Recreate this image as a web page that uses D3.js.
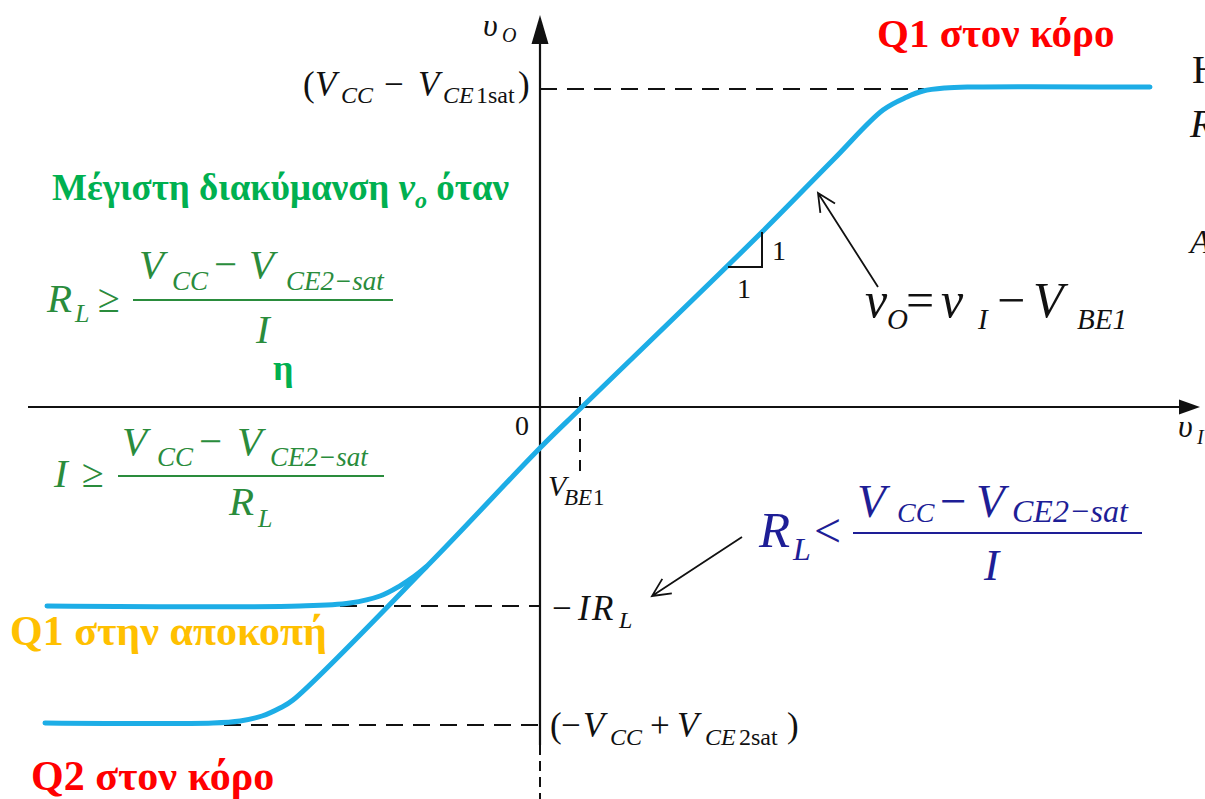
<!DOCTYPE html>
<html>
<head>
<meta charset="utf-8">
<script src="https://cdn.jsdelivr.net/npm/d3@7"></script>
<style>
  html, body { margin: 0; padding: 0; background: #fff; overflow: hidden; }
  svg { display: block; }
</style>
</head>
<body>
<svg id="chart" width="1205" height="799"></svg>
<script>
// Transfer characteristic vO(vI) of the class-B follower output stage.
// Main branch: Q2 saturated -> linear (slope 1, offset VBE1) -> Q1 saturated
const mainVI = [-12.375, -8.175, -7.5, -6.95, -6.5, -6.175, -2.675, 0, 1.05, 5.55, 7.325, 8.575, 9.175, 9.575, 10.125, 10.75, 15.25];
const mainVO = [-7.9, -7.9, -7.85, -7.725, -7.525, -7.325, -3.825, -1.025, 0, 4.375, 6.175, 7.425, 7.75, 7.9, 7.975, 8.0, 8.0];
// Branch where Q1 is cut off at -I*RL
const cutVI = [-12.325, -6.0, -4.75, -4.0, -3.5, -3.15, -2.85];
const cutVO = [-4.975, -4.975, -4.9, -4.725, -4.47, -4.24, -4.0];

// Reference levels on the vO axis and their guide extents on the vI axis
const levelNames = ["VCCsat1", "IRL", "VCCsat2"];
const levelVO = [7.95, -4.975, -7.95];
const levelFromVI = [0, -5.0, -7.9];
const levelToVI = [9.6, 0, 0];
const vbe1 = 1.0;

const SERIF = "Liberation Serif";
const svg = d3.select("#chart").style("font-family", `'${SERIF}'`);
const W = 1205, H = 799;

const x = d3.scaleLinear().domain([-12.8, 16.5]).range([28, 1200]);
const y = d3.scaleLinear().domain([-9.8, 9.8]).range([799, 15]);

// ---- axes ----
const xAxis = d3.axisBottom(x).tickValues([]).tickSizeOuter(0);
const gx = svg.append("g").attr("transform", `translate(0,${y(0)})`).call(xAxis);
gx.select(".domain").attr("stroke", "#111").attr("stroke-width", 2.2)
  .attr("d", `M${x(-12.8)},0H${x(16.5) - 16}`);
svg.append("path")
  .attr("d", `M${x(16.5)},${y(0)} L${x(16.5) - 21},${y(0) - 7.5} L${x(16.5) - 21},${y(0) + 7.5} Z`)
  .attr("fill", "#111");

const yAxisTop = y(9.8), yAxisSolidEnd = y(-8.45);
const yAxis = d3.axisLeft(y.copy().domain([-8.45, 9.8]).range([yAxisSolidEnd, yAxisTop])).tickValues([]).tickSizeOuter(0);
const gy = svg.append("g").attr("transform", `translate(${x(0)},0)`).call(yAxis);
gy.select(".domain").attr("stroke", "#111").attr("stroke-width", 2.2)
  .attr("d", `M0,${yAxisSolidEnd}V${yAxisTop + 20}`);
svg.append("path")
  .attr("d", `M${x(0)},${yAxisTop} L${x(0) - 8.5},${yAxisTop + 29} L${x(0) + 8.5},${yAxisTop + 29} Z`)
  .attr("fill", "#111");
svg.append("line")
  .attr("x1", x(0)).attr("x2", x(0)).attr("y1", yAxisSolidEnd).attr("y2", H)
  .attr("stroke", "#111").attr("stroke-width", 2).attr("stroke-dasharray", "10,6");

// ---- dashed guide lines ----
levelVO.forEach((v, i) => {
  svg.append("line")
    .attr("class", "guide " + levelNames[i])
    .attr("x1", x(levelFromVI[i])).attr("x2", x(levelToVI[i]))
    .attr("y1", y(v)).attr("y2", y(v))
    .attr("stroke", "#111").attr("stroke-width", 2).attr("stroke-dasharray", "17,10");
});
svg.append("line")
  .attr("x1", x(vbe1)).attr("x2", x(vbe1))
  .attr("y1", y(0.25)).attr("y2", y(-1.6))
  .attr("stroke", "#111").attr("stroke-width", 2).attr("stroke-dasharray", "13,8");

// ---- characteristic curves ----
const line = d3.line().x(d => x(d[0])).y(d => y(d[1])).curve(d3.curveCatmullRom.alpha(0.5));
const curveColor = "#1DADE6";
svg.append("path").datum(cutVI.map((v, i) => [v, cutVO[i]]))
  .attr("d", line).attr("fill", "none").attr("stroke", curveColor)
  .attr("stroke-width", 5).attr("stroke-linecap", "round");
svg.append("path").datum(mainVI.map((v, i) => [v, mainVO[i]]))
  .attr("d", line).attr("fill", "none").attr("stroke", curveColor)
  .attr("stroke-width", 5).attr("stroke-linecap", "round");

// slope triangle (1:1)
svg.append("path")
  .attr("d", `M${x(4.7)},${y(3.5)} H${x(5.55)} V${y(4.375)}`)
  .attr("fill", "none").attr("stroke", "#111").attr("stroke-width", 2);

// ---- text helper ----
function put(sx, sy, s, o = {}) {
  return svg.append("text")
    .attr("x", sx).attr("y", sy).text(s)
    .style("font-family", `'${SERIF}'`)
    .attr("font-size", o.size || 30)
    .attr("font-style", o.it ? "italic" : "normal")
    .attr("font-weight", o.b ? "bold" : "normal")
    .attr("fill", o.c || "#111");
}

// slope labels
put(x(5.55) + 10, y(3.5) - 7, "1", { size: 28 });
put(x(4.7) + 9, y(3.5) + 31, "1", { size: 28 });

// axis titles
put(483, 36, "υ", { size: 32, it: true });
put(502, 42, "O", { size: 20, it: true });
put(1178, y(0) + 30, "υ", { size: 32, it: true });
put(1197, y(0) + 37, "I", { size: 20, it: true });

// origin and VBE1
put(x(0) - 25, y(0) + 28, "0", { size: 28 });
put(x(vbe1) - 32, y(0) + 89, "V", { size: 30, it: true });
put(x(vbe1) - 16, y(0) + 98, "BE", { size: 23, it: true });
put(x(vbe1) + 13, y(0) + 98, "1", { size: 23 });

// level labels
const yT = y(levelVO[0]) + 7;
put(303, yT, "(", { size: 35 });
put(315, yT, "V", { size: 35, it: true });
put(341, yT + 7, "CC", { size: 24, it: true });
put(384, yT, "−", { size: 35 });
put(418, yT, "V", { size: 35, it: true });
put(443, yT + 7, "CE", { size: 24, it: true });
put(476, yT + 7, "1sat", { size: 24 });
put(518, yT, ")", { size: 35 });

const yM = y(levelVO[1]) + 14;
put(552, yM, "−", { size: 35 });
put(578, yM, "I", { size: 35, it: true });
put(592, yM, "R", { size: 35, it: true });
put(619, yM + 8, "L", { size: 24, it: true });

const yB = y(levelVO[2]) + 12;
put(550, yB, "(", { size: 35 });
put(561, yB, "−", { size: 35 });
put(583, yB, "V", { size: 35, it: true });
put(610, yB + 8, "CC", { size: 24, it: true });
put(650, yB, "+", { size: 35 });
put(677, yB, "V", { size: 35, it: true });
put(705, yB + 8, "CE", { size: 24, it: true });
put(739, yB + 8, "2sat", { size: 24 });
put(787, yB, ")", { size: 35 });

// ---- annotations: state labels ----
put(877, 47, "Q1 στον κόρο", { size: 41, b: true, c: "#FF0000" });
put(10, 645, "Q1 στην αποκοπή", { size: 42, b: true, c: "#FFC000" });
put(31, 790, "Q2 στον κόρο", { size: 42, b: true, c: "#FF0000" });

// slope-1 region equation
put(865, 317, "v", { size: 50, it: true });
put(887, 329, "O", { size: 29, it: true });
put(906, 317, "=", { size: 50 });
put(941, 317, "v", { size: 50, it: true });
put(978, 329, "I", { size: 29, it: true });
put(997, 317, "−", { size: 50 });
put(1033, 317, "V", { size: 50, it: true });
put(1077, 329, "BE1", { size: 29, it: true });

// arrows
function arrow(x1, y1, x2, y2) {
  const a = Math.atan2(y2 - y1, x2 - x1), L = 20, sp = 0.45;
  svg.append("path")
    .attr("d", `M${x1},${y1} L${x2},${y2} M${x2 - L * Math.cos(a - sp)},${y2 - L * Math.sin(a - sp)} L${x2},${y2} L${x2 - L * Math.cos(a + sp)},${y2 - L * Math.sin(a + sp)}`)
    .attr("fill", "none").attr("stroke", "#111").attr("stroke-width", 1.8);
}
arrow(878, 287, 818, 193);
arrow(742, 537, 652, 596);

// ---- green condition block ----
const green = "#00B050", dgreen = "#2A8C3C";
const t = svg.append("text").attr("x", 52).attr("y", 200).style("font-family", `'${SERIF}'`)
  .attr("font-size", 37).attr("font-weight", "bold").attr("fill", green);
t.append("tspan").text("Μέγιστη διακύμανση ");
t.append("tspan").attr("font-style", "italic").text("v");
t.append("tspan").attr("font-style", "italic").attr("font-size", 24).attr("dy", 8).text("o");
t.append("tspan").attr("dy", -8).text(" όταν");

put(47, 312, "R", { size: 41, it: true, c: dgreen });
put(75, 322, "L", { size: 26, it: true, c: dgreen });
put(98, 312, "≥", { size: 40, c: dgreen });
svg.append("line").attr("x1", 133).attr("x2", 393).attr("y1", 300).attr("y2", 300)
  .attr("stroke", dgreen).attr("stroke-width", 2);
put(139, 278, "V", { size: 41, it: true, c: dgreen });
put(172, 290, "CC", { size: 27, it: true, c: dgreen });
put(214, 278, "−", { size: 41, c: dgreen });
put(249, 278, "V", { size: 41, it: true, c: dgreen });
put(286, 290, "CE2−sat", { size: 27, it: true, c: dgreen });
put(256, 343, "I", { size: 41, it: true, c: dgreen });

put(273, 380, "η", { size: 36, b: true, c: green });

put(54, 487, "I", { size: 41, it: true, c: dgreen });
put(82, 487, "≥", { size: 40, c: dgreen });
svg.append("line").attr("x1", 118).attr("x2", 384).attr("y1", 476).attr("y2", 476)
  .attr("stroke", dgreen).attr("stroke-width", 2);
put(122, 455, "V", { size: 41, it: true, c: dgreen });
put(157, 466, "CC", { size: 27, it: true, c: dgreen });
put(199, 455, "−", { size: 41, c: dgreen });
put(237, 455, "V", { size: 41, it: true, c: dgreen });
put(270, 466, "CE2−sat", { size: 27, it: true, c: dgreen });
put(229, 515, "R", { size: 41, it: true, c: dgreen });
put(258, 527, "L", { size: 26, it: true, c: dgreen });

// ---- blue condition ----
const navy = "#1E1E96";
put(759, 547, "R", { size: 51, it: true, c: navy });
put(793, 560, "L", { size: 32, it: true, c: navy });
put(814, 547, "<", { size: 48, c: navy });
svg.append("line").attr("x1", 853).attr("x2", 1142).attr("y1", 533).attr("y2", 533)
  .attr("stroke", navy).attr("stroke-width", 2);
put(857, 517, "V", { size: 47, it: true, c: navy });
put(897, 522, "CC", { size: 28, it: true, c: navy });
put(940, 517, "−", { size: 47, c: navy });
put(976, 517, "V", { size: 47, it: true, c: navy });
put(1012, 522, "CE2−sat", { size: 32, it: true, c: navy });
put(984, 580, "I", { size: 45, it: true, c: navy });

// ---- text continuing past the right edge ----
put(1192, 83, "Η", { size: 40 });
put(1190, 137, "R", { size: 40, it: true });
put(1190, 253, "A", { size: 34, it: true });
</script>
</body>
</html>
